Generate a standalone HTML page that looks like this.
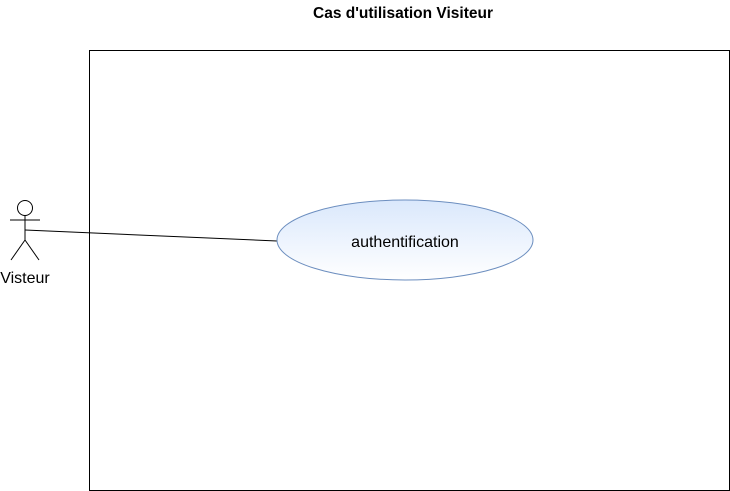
<!DOCTYPE html>
<html><head><style>body{margin:0;background:#fff}</style></head><body>
<svg width="730" height="491" xmlns="http://www.w3.org/2000/svg" style="display:block">
<defs><linearGradient id="g" x1="0" y1="0" x2="0" y2="1"><stop offset="0" stop-color="#dae8fc"/><stop offset="1" stop-color="#ffffff"/></linearGradient></defs>
<text x="403" y="18" text-anchor="middle" font-family="Liberation Sans, sans-serif" font-size="15.5" font-weight="bold">Cas d'utilisation Visiteur</text>
<rect x="89.5" y="50.5" width="640" height="440" fill="none" stroke="#000"/>
<line x1="25" y1="230" x2="277" y2="241" stroke="#000"/>
<ellipse cx="405" cy="240" rx="128" ry="40" fill="url(#g)" stroke="#6c8ebf"/>
<text x="405" y="247" text-anchor="middle" font-family="Liberation Sans, sans-serif" font-size="16" fill="#000">authentification</text>
<g stroke="#000" fill="none">
<circle cx="25" cy="208" r="7.5" fill="#fff"/>
<line x1="25" y1="215.5" x2="25" y2="240"/>
<line x1="10" y1="220" x2="40" y2="220"/>
<line x1="25" y1="240" x2="11" y2="260"/>
<line x1="25" y1="240" x2="39" y2="260"/>
</g>
<text x="25" y="283" text-anchor="middle" font-family="Liberation Sans, sans-serif" font-size="16" fill="#000">Visteur</text>
</svg>
</body></html>
